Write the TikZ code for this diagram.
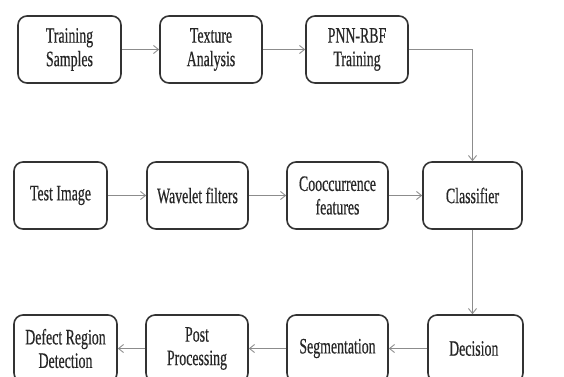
\documentclass[tikz,border=0pt]{standalone}
\usepackage{fontspec}
\setmainfont{Liberation Serif}[FakeStretch=0.63, FakeBold=0.4]
\usetikzlibrary{arrows.meta}

\begin{document}
\begin{tikzpicture}[
    x=1pt, y=-1pt,
    block/.style={draw=black!80, line width=1.6pt, rounded corners=9pt, fill=white,
        minimum height=67pt, inner sep=2pt, align=center,
        font=\fontsize{22}{23.5}\selectfont, text=black!85},
    flow/.style={draw=black!45, line width=1.1pt,
        -{Straight Barb[length=5pt, width=8pt, line width=0.9pt]}}
]

% Marco de la figura (proporciones de la referencia)
\useasboundingbox (0,0) rectangle (564,376);

% 1. Bloques: nombre/centro x/centro y/ancho/texto
\foreach \name/\cx/\cy/\w/\txt in {
    train/69.5/49.5/103/{Training\\Samples},
    texture/211/49.5/102/{Texture\\Analysis},
    pnn/357/49.5/102/{PNN-RBF\\Training},
    test/60.5/195.5/93/{Test Image},
    wavelet/197.5/195.5/101/{Wavelet filters},
    cooc/337.5/195.5/101/{Cooccurrence\\features},
    cls/472.5/195.5/99/{Classifier},
    defect/65.5/348.5/103/{Defect Region\\Detection},
    post/197/348.5/102/{Post\\Processing},
    seg/337.5/348.5/101/{Segmentation},
    dec/475.5/348.5/95/{Decision}
}{
    \node[block, minimum width=\w pt] (\name) at (\cx,\cy) {\txt};
}

% 2. Fila de entrenamiento
\draw[flow] (train) -- (texture);
\draw[flow] (texture) -- (pnn);
\draw[flow] (pnn.east) -| (cls.north);

% 3. Fila de prueba
\draw[flow] (test) -- (wavelet);
\draw[flow] (wavelet) -- (cooc);
\draw[flow] (cooc) -- (cls);

% 4. Fila de salida (de derecha a izquierda)
\draw[flow] (cls.south) -- (cls.south |- dec.north);
\draw[flow] (dec) -- (seg);
\draw[flow] (seg) -- (post);
\draw[flow] (post) -- (defect);

\end{tikzpicture}
\end{document}
